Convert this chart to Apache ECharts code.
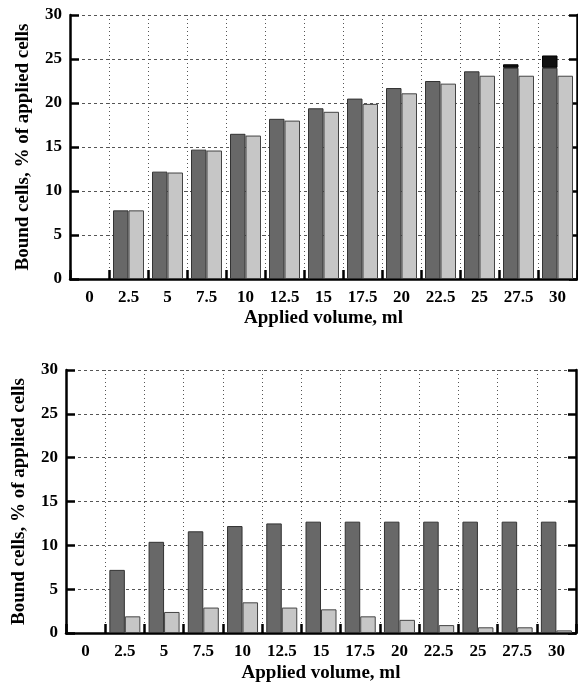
<!DOCTYPE html>
<html>
<head>
<meta charset="utf-8">
<script src="https://cdn.jsdelivr.net/npm/echarts@6/dist/echarts.min.js"></script>
<style>html,body{margin:0;padding:0;background:#fff}#c{width:578px;height:684px}</style>
</head>
<body>
<div id="c"></div>
<script>
var categories = ['0','2.5','5','7.5','10','12.5','15','17.5','20','22.5','25','27.5','30'];
var yTicks = [0,5,10,15,20,25,30];
// Top panel
var topDark  = ['-',7.8,12.2,14.7,16.5,18.2,19.4,20.5,21.7,22.5,23.6,24.0,24.0];
var topCap   = ['-','-','-','-','-','-','-','-','-','-','-',0.4,1.4];
var topLight = ['-',7.8,12.1,14.6,16.3,18.0,19.0,19.9,21.1,22.2,23.1,23.1,23.1];
// Bottom panel
var botDark  = ['-',7.2,10.4,11.6,12.2,12.5,12.7,12.7,12.7,12.7,12.7,12.7,12.7];
var botLight = ['-',1.9,2.4,2.9,3.5,2.9,2.7,1.9,1.5,0.9,0.65,0.65,0.3];

var FONT = 'Liberation Serif';
var DARK = '#686868', LIGHT = '#c6c6c6', CAP = '#111111';

function xAxisFor(gi){
  return {
    type:'category', gridIndex:gi, data:categories, boundaryGap:true,
    name:'Applied volume, ml', nameLocation:'middle', nameGap:gi===0?30:31,
    nameTextStyle:{fontFamily:FONT,fontWeight:'bold',fontSize:19,color:'#000'},
    axisLine:{lineStyle:{color:'#000',width:2.5}},
    axisTick:{show:true,inside:true,length:9,interval:0,lineStyle:{color:'#000',width:2.5}},
    axisLabel:{interval:0,margin:10,fontFamily:FONT,fontWeight:'bold',fontSize:17,color:'#000'},
    splitLine:{show:true,interval:0,lineStyle:{color:'#555',width:1,type:[1,3]}}
  };
}
function yAxisFor(gi){
  return {
    type:'value', gridIndex:gi, min:0, max:30, interval:5, position:'left',
    name:'Bound cells, % of applied cells', nameLocation:'middle', nameRotate:90, nameGap:37,
    nameTextStyle:{fontFamily:FONT,fontWeight:'bold',fontSize:19,color:'#000'},
    axisLine:{show:true,lineStyle:{color:'#000',width:2.5}},
    axisTick:{show:true,inside:true,length:9,lineStyle:{color:'#000',width:2.5}},
    axisLabel:{margin:8,fontFamily:FONT,fontWeight:'bold',fontSize:17,color:'#000',
      formatter:function(v){return yTicks.indexOf(v)>=0?String(v):'';}},
    splitLine:{show:true,lineStyle:{color:'#555',width:1,type:[3,3]}}
  };
}
function yRightFor(gi){
  return {
    type:'value', gridIndex:gi, min:0, max:30, interval:5, position:'right',
    axisLine:{show:true,lineStyle:{color:'#000',width:2.5}},
    axisTick:{show:true,inside:true,length:8,lineStyle:{color:'#000',width:2.5}},
    axisLabel:{show:false}, splitLine:{show:false}
  };
}
function barS(name,data,xi,yi,color,stack,border){
  var s = {name:name,type:'bar',xAxisIndex:xi,yAxisIndex:yi,data:data,barWidth:15.5,barGap:'0%',
    itemStyle:{color:color,borderColor:border,borderWidth:1},silent:true,animation:false};
  if(stack) s.stack = stack;
  return s;
}

var chart = echarts.init(document.getElementById('c'),null,{renderer:'canvas'});
chart.setOption({
  animation:false,
  grid:[
    {left:70,right:1,top:15,height:264},
    {left:66,right:2,top:370,height:264}
  ],
  xAxis:[xAxisFor(0),xAxisFor(1)],
  yAxis:[yAxisFor(0),yRightFor(0),yAxisFor(1),yRightFor(1)],
  series:[
    barS('top dark',topDark,0,0,DARK,'t','#333'),
    barS('top cap',topCap,0,0,CAP,'t','#000'),
    barS('top light',topLight,0,0,LIGHT,null,'#444'),
    barS('bottom dark',botDark,1,2,DARK,null,'#333'),
    barS('bottom light',botLight,1,2,LIGHT,null,'#444')
  ]
});
</script>
</body>
</html>
